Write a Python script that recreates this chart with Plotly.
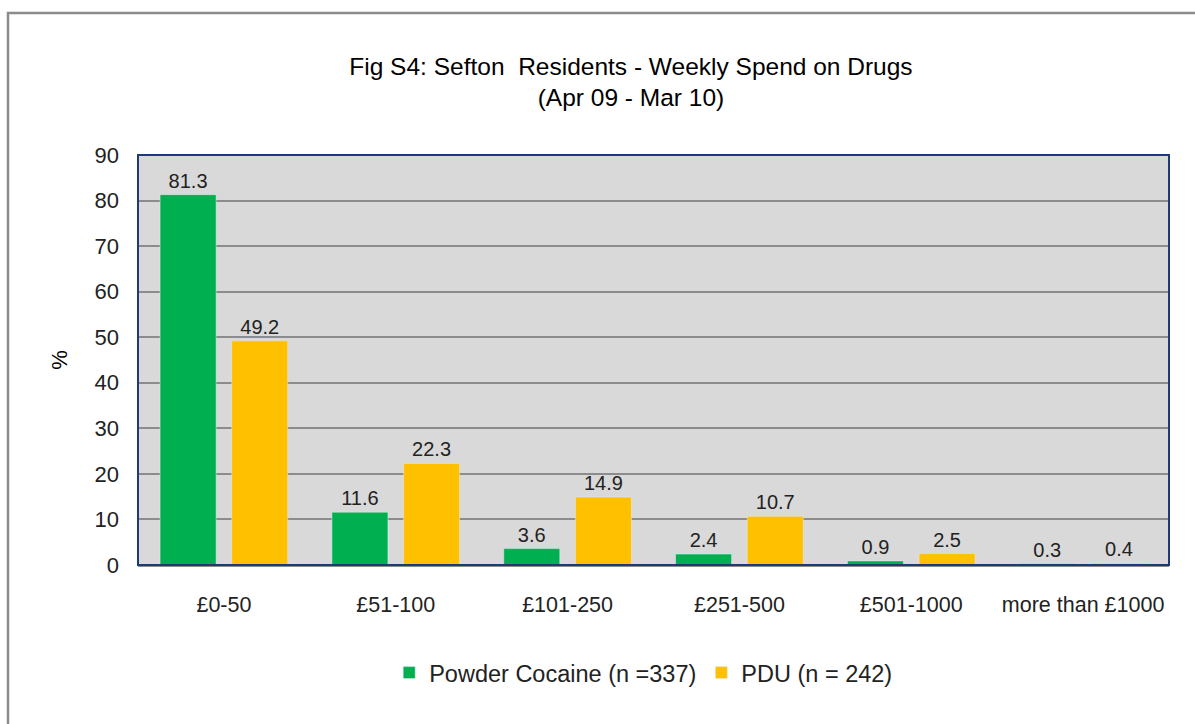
import plotly.graph_objects as go

categories = ["£0-50", "£51-100", "£101-250", "£251-500", "£501-1000", "more than £1000"]
cocaine = [81.3, 11.6, 3.6, 2.4, 0.9, 0.3]
pdu = [49.2, 22.3, 14.9, 10.7, 2.5, 0.4]
series_names = ["Powder Cocaine (n =337)", "PDU (n = 242)"]
y_ticks = [0, 10, 20, 30, 40, 50, 60, 70, 80, 90]

label_font = dict(family="Liberation Sans, Arial, sans-serif", size=20, color="#222222")

fig = go.Figure()
fig.add_trace(go.Bar(
    x=categories, y=cocaine, name=series_names[0],
    marker=dict(color="#00B050"),
    text=[f"{v:.1f}" for v in cocaine], textposition="outside",
    textfont=label_font, cliponaxis=False,
))
fig.add_trace(go.Bar(
    x=categories, y=pdu, name=series_names[1],
    marker=dict(color="#FFC000"),
    text=[f"{v:.1f}" for v in pdu], textposition="outside",
    textfont=label_font, cliponaxis=False,
))

fig.update_layout(
    width=1195, height=724,
    margin=dict(l=138, r=26, t=155, b=159),
    paper_bgcolor="white",
    plot_bgcolor="#D9D9D9",
    barmode="group",
    bargap=0.166,
    bargroupgap=0.218,
    title=dict(
        text="Fig S4: Sefton  Residents - Weekly Spend on Drugs<br>(Apr 09 - Mar 10)",
        x=0.528, xanchor="center", y=0.897, yanchor="middle",
        font=dict(family="Liberation Sans, Arial, sans-serif", size=24.5, color="#000000"),
    ),
    font=dict(family="Liberation Sans, Arial, sans-serif", color="#222222"),
    showlegend=True,
    legend=dict(
        orientation="h", x=0.49, xanchor="center", y=-0.263, yanchor="middle",
        font=dict(size=23.5, color="#222222"),
        itemwidth=30, traceorder="normal",
    ),
    xaxis=dict(
        showgrid=False, ticks="", tickfont=dict(size=21.5, color="#222222"),
        showline=True, linecolor="#8C8C8C", linewidth=2,
        ticklabelstandoff=19,
    ),
    yaxis=dict(
        range=[0, 90], tickvals=y_ticks, tickfont=dict(size=22, color="#222222"),
        showgrid=True, gridcolor="#8C8C8C", gridwidth=2,
        zeroline=False, ticks="", ticklabelstandoff=18,
        title=dict(text="%", font=dict(size=22, color="#000000"), standoff=20),
    ),
    shapes=[
        # plot frame
        dict(type="rect", xref="paper", yref="paper", x0=0, y0=0, x1=1, y1=1,
             line=dict(color="#1F3A7A", width=2), layer="above"),
        # outer chart border
        dict(type="rect", xref="paper", yref="paper",
             x0=-130 / 1031, y0=-200 / 410, x1=1.1, y1=(155 - 13) / 410 + 1,
             line=dict(color="#8C8C8C", width=2.5), layer="above"),
    ],
)

fig.write_html("out.html")
